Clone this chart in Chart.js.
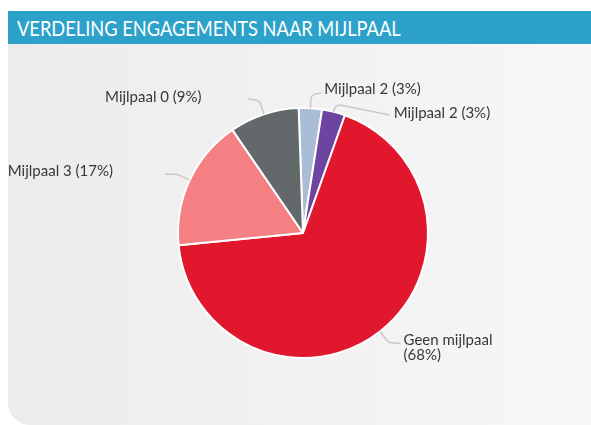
<!DOCTYPE html>
<html>
<head>
<meta charset="utf-8">
<script src="https://cdn.jsdelivr.net/npm/chart.js"></script>
<style>
  html, body { margin: 0; padding: 0; background: #fff; }
  body { width: 591px; height: 425px; position: relative; overflow: hidden; }
  .title {
    position: absolute; left: 8px; top: 11px; width: 583px; height: 33px;
    background: #2ca2ca; color: #fff; font-family: 'Lato', sans-serif; font-size: 22px;
    line-height: 33px; padding-left: 9px; box-sizing: border-box; white-space: nowrap;
  }
  .title span { display: inline-block; transform: scaleX(0.83); transform-origin: left center; }
  .panel {
    position: absolute; left: 8px; top: 44px; width: 583px; height: 381px;
    background: linear-gradient(to right, #ececec, #f7f7f8);
    border-bottom-left-radius: 22px;
  }
  #myChart { position: absolute; left: 0; top: 0; }
</style>
</head>
<body>
<div class="title"><span>VERDELING ENGAGEMENTS NAAR MIJLPAAL</span></div>
<div class="panel"></div>
<canvas id="myChart" width="591" height="425"></canvas>
<script>
var categories = ['Mijlpaal 2', 'Mijlpaal 2', 'Geen mijlpaal', 'Mijlpaal 3', 'Mijlpaal 0'];
var shares = [3, 3, 68, 17, 9];
var sliceColors = ['#aabdd6', '#6d44a0', '#e1182d', '#f48084', '#63686b'];

// where each label sits relative to the bend of its leader line
var labelStyle = [
  { len: 14, line: [10, -1], text: [13, -5], align: 'left' },
  { len: 8, line: [54, 11], text: [58, 9], align: 'left' },
  { len: 14, line: [12, 1], text: [15, -2], align: 'left', wrap: true },
  { len: 14, line: [-12, 0], text: [-64, -3], align: 'right' },
  { len: 14, line: [-11, -2], text: [-58, -4], align: 'right' }
];

var pieLabels = {
  id: 'pieLabels',
  afterDatasetsDraw: function (chart) {
    var ctx = chart.ctx;
    var meta = chart.getDatasetMeta(0);
    ctx.save();
    ctx.strokeStyle = '#c9c9c9';
    ctx.lineWidth = 1.5;
    ctx.fillStyle = '#383838';
    ctx.font = '15px Lato';
    ctx.textBaseline = 'middle';
    meta.data.forEach(function (arc, i) {
      var p = arc.getProps(['x', 'y', 'startAngle', 'endAngle', 'outerRadius']);
      var a = (p.startAngle + p.endAngle) / 2;
      var s = labelStyle[i];
      var x0 = p.x + Math.cos(a) * p.outerRadius;
      var y0 = p.y + Math.sin(a) * p.outerRadius;
      var ex = p.x + Math.cos(a) * (p.outerRadius + s.len);
      var ey = p.y + Math.sin(a) * (p.outerRadius + s.len);
      var lx = ex + s.line[0];
      var ly = ey + s.line[1];
      ctx.beginPath();
      ctx.moveTo(x0, y0);
      ctx.arcTo(ex, ey, lx, ly, 6);
      ctx.lineTo(lx, ly);
      ctx.stroke();

      var pct = '(' + shares[i] + '%)';
      var lines = s.wrap ? [categories[i], pct] : [categories[i] + ' ' + pct];
      ctx.textAlign = s.align;
      lines.forEach(function (t, k) {
        ctx.fillText(t, ex + s.text[0], ey + s.text[1] + k * 15);
      });
    });
    ctx.restore();
  }
};

new Chart('myChart', {
  type: 'pie',
  data: {
    labels: categories,
    datasets: [
      {
        data: shares,
        backgroundColor: sliceColors,
        borderColor: '#ffffff',
        borderWidth: 2
      }
    ]
  },
  options: {
    responsive: false,
    animation: false,
    rotation: -2,
    layout: {
      padding: { left: 177, top: 107, right: 162, bottom: 66 }
    },
    plugins: {
      legend: { display: false },
      tooltip: { enabled: false }
    }
  },
  plugins: [pieLabels]
});
</script>
</body>
</html>
